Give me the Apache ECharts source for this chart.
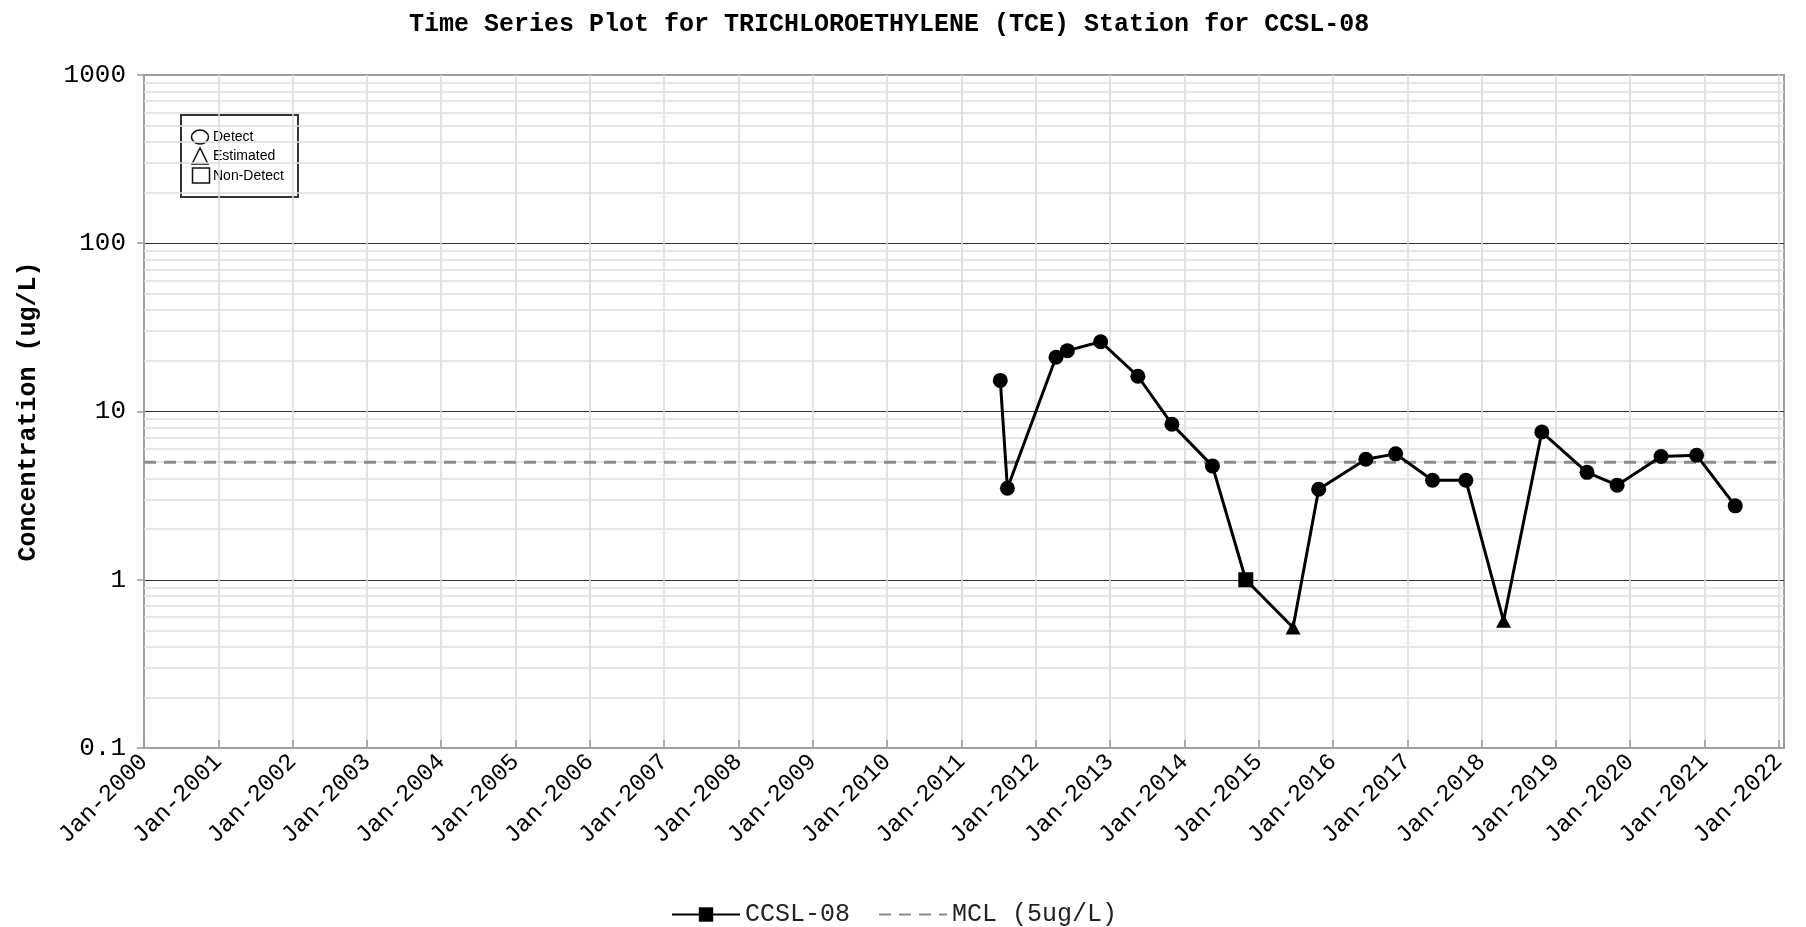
<!DOCTYPE html>
<html><head><meta charset="utf-8">
<script src="https://cdn.jsdelivr.net/npm/echarts@6/dist/echarts.min.js"></script>
<style>html,body{margin:0;padding:0;background:#fff}#c{width:1806px;height:927px}</style>
</head><body><div id="c"></div>
<script>
// ---- data ----
const sampleDates = ['2011-07-11','2011-08-15','2012-04-10','2012-06-05','2012-11-16','2013-05-18','2013-11-01','2014-05-19','2014-10-30','2015-06-19','2015-10-23','2016-06-11','2016-11-05','2017-05-05','2017-10-16','2018-04-19','2018-10-24','2019-06-03','2019-10-29','2020-06-01','2020-11-23','2021-06-01'];
const tceValues = [15.3, 3.5, 21, 23, 26, 16.2, 8.4, 4.75, 1.0, 0.52, 3.45, 5.2, 5.6, 3.9, 3.9, 0.57, 7.55, 4.35, 3.65, 5.4, 5.5, 2.75];
const qualifiers = ['D','D','D','D','D','D','D','D','N','E','D','D','D','D','D','E','D','D','D','D','D','D'];
const mclValue = 5;
const xStartYear = 2000, xEndYear = 2022.07;
const yTickLabels = ['0.1','1','10','100','1000'];
const minorGridValues = [0.2,0.3,0.4,0.5,0.6,0.7,0.8,0.9, 2,3,4,5,6,7,8,9, 20,30,40,50,60,70,80,90, 200,300,400,500,600,700,800,900];
const stationName = 'CCSL-08';
const mclName = 'MCL (5ug/L)';

function decYear(s){
  const [y,m,d] = s.split('-').map(Number);
  const t = Date.UTC(y,m-1,d), t0 = Date.UTC(y,0,1), t1 = Date.UTC(y+1,0,1);
  return y + (t - t0)/(t1 - t0);
}
const symMap = {D:'circle', E:'triangle', N:'rect'};
const seriesData = sampleDates.map((d,i)=>({value:[decYear(d), tceValues[i]], symbol: symMap[qualifiers[i]], symbolSize: qualifiers[i]==='E'?[15,14]:15}));

const MONO = 'Liberation Mono';
const chart = echarts.init(document.getElementById('c'), null, {renderer:'canvas'});
chart.setOption({
  animation:false,
  backgroundColor:'#fff',
  title:{text:'Time Series Plot for TRICHLOROETHYLENE (TCE) Station for CCSL-08', left:404, top:7,
    textStyle:{fontFamily:MONO, fontWeight:'bold', fontSize:25, color:'#000'}},
  grid:{left:144, right:22, top:75, bottom:179, show:true, borderColor:'#a0a0a0', borderWidth:2, backgroundColor:'transparent'},
  legend:{left:666, top:897, itemWidth:68, itemHeight:18, itemGap:28,
    data:[stationName, {name:mclName, itemStyle:{opacity:0}}],
    textStyle:{fontFamily:MONO, fontSize:25, color:'#222'}},
  xAxis:{type:'value', min:xStartYear, max:xEndYear, interval:1,
    axisLine:{show:true, lineStyle:{color:'#a0a0a0', width:2}},
    axisTick:{show:true, inside:true, length:8, lineStyle:{color:'#999', width:1.5}},
    splitLine:{show:true, showMinLine:false, showMaxLine:false, lineStyle:{color:'#d8d8d8', width:1.5}},
    axisLabel:{rotate:45, margin:10, fontFamily:MONO, fontSize:24, color:'#000',
      formatter:v=> Number.isInteger(v) ? 'Jan-' + v : ''}},
  yAxis:{type:'log', logBase:10, min:0.1, max:1000,
    name:'Concentration (ug/L)', nameLocation:'middle', nameGap:103,
    nameTextStyle:{fontFamily:MONO, fontWeight:'bold', fontSize:25, color:'#000'},
    axisLine:{show:true, lineStyle:{color:'#a0a0a0', width:2}},
    axisTick:{show:true, length:7, lineStyle:{color:'#999', width:1.5}},
    splitLine:{show:true, showMinLine:false, showMaxLine:false, lineStyle:{color:'#333', width:1.2}},
    axisLabel:{margin:18, fontFamily:MONO, fontSize:26, color:'#000',
      formatter:v=>{ const i = Math.round(Math.log10(v))+1; return yTickLabels[i] !== undefined ? yTickLabels[i] : String(v); }}},
  tooltip:{show:false},
  graphic:[{type:'group', left:174, top:109, z:100, children:[
    {type:'rect', shape:{x:0,y:0,width:130,height:93}, style:{fill:'#fff'}},
    {type:'rect', shape:{x:7,y:6,width:117,height:82}, style:{fill:'#fff', stroke:'#333', lineWidth:2}},
    {type:'ellipse', shape:{cx:26, cy:28, rx:8.5, ry:7}, style:{fill:'none', stroke:'#111', lineWidth:1.5}},
    {type:'polygon', shape:{points:[[26,39],[18,55],[34,55]]}, style:{fill:'none', stroke:'#111', lineWidth:1.5}},
    {type:'rect', shape:{x:18.5,y:59,width:17,height:15}, style:{fill:'none', stroke:'#111', lineWidth:1.5}},
    {type:'text', x:39, y:28, style:{text:'Detect', fontFamily:'Liberation Sans', fontSize:14, fill:'#000', verticalAlign:'middle'}},
    {type:'text', x:39, y:47, style:{text:'Estimated', fontFamily:'Liberation Sans', fontSize:14, fill:'#000', verticalAlign:'middle'}},
    {type:'text', x:39, y:67, style:{text:'Non-Detect', fontFamily:'Liberation Sans', fontSize:14, fill:'#000', verticalAlign:'middle'}}
  ]}],
  series:[
    {type:'line', name:'minorGrid', data:[], silent:true, z:1,
      markLine:{silent:true, z:1, symbol:['none','none'], label:{show:false}, animation:false,
        lineStyle:{color:'#dcdcdc', width:1.5, type:'solid'},
        data:minorGridValues.map(v=>({yAxis:v}))}},
    {type:'line', name:mclName, data:[[xStartYear, mclValue],[xEndYear, mclValue]], symbol:'none', z:2, silent:true,
      lineStyle:{color:'#8c8c8c', width:3, type:[12,8]}, itemStyle:{color:'#8c8c8c'}},
    {type:'line', name:stationName, data:seriesData, symbol:'rect', symbolSize:15, z:3, silent:true,
      lineStyle:{color:'#000', width:3, type:'solid'}, itemStyle:{color:'#000'}}
  ]
});
</script>
</body></html>
